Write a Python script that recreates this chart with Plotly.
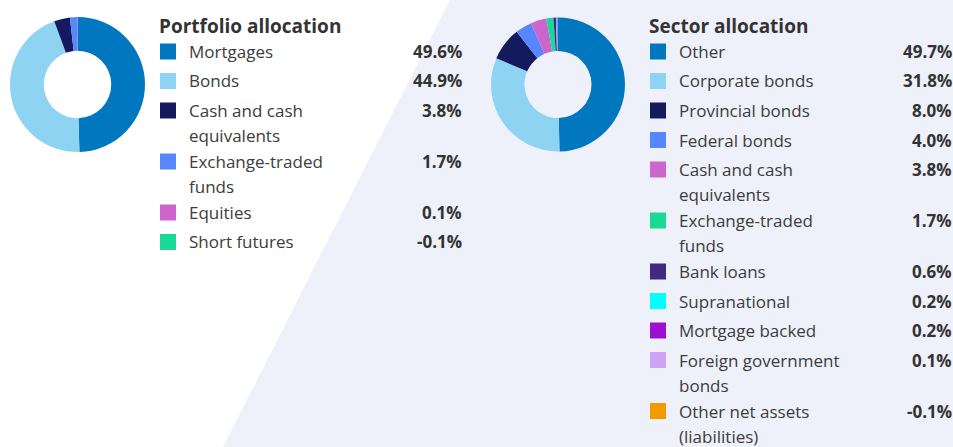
import plotly.graph_objects as go

# Portfolio allocation data
portfolio_labels = ["Mortgages", "Bonds", "Cash and cash<br>equivalents",
                    "Exchange-traded<br>funds", "Equities", "Short futures"]
portfolio_values = [49.6, 44.9, 3.8, 1.7, 0.1, -0.1]
portfolio_colors = ["#0077be", "#8fd3f2", "#151a5e", "#5886ff", "#cc66cc", "#1ad996"]

# Sector allocation data
sector_labels = ["Other", "Corporate bonds", "Provincial bonds", "Federal bonds",
                 "Cash and cash<br>equivalents", "Exchange-traded<br>funds",
                 "Bank loans", "Supranational", "Mortgage backed",
                 "Foreign government<br>bonds", "Other net assets<br>(liabilities)"]
sector_values = [49.7, 31.8, 8.0, 4.0, 3.8, 1.7, 0.6, 0.2, 0.2, 0.1, -0.1]
sector_colors = ["#0077be", "#8fd3f2", "#151a5e", "#5886ff", "#cc66cc", "#1ad996",
                 "#3e2a82", "#00ffff", "#9b10d0", "#cfa2fa", "#f29b00"]

W, H = 953, 447
FONT = "Open Sans"
TEXT = "#333333"
LABEL = "#3c3c3c"

fig = go.Figure()


def px_x(v):
    return v / W


def px_y(v):
    return 1 - v / H


def add_donut(values, colors, cx, cy, r):
    shown = [max(v, 0) for v in values]  # negative weights have no slice
    fig.add_trace(go.Pie(
        values=shown,
        marker=dict(colors=colors, line=dict(width=0)),
        hole=0.5, sort=False, direction="clockwise", rotation=0,
        textinfo="none", hoverinfo="skip", showlegend=False,
        domain=dict(x=[px_x(cx - r), px_x(cx + r)], y=[px_y(cy + r), px_y(cy - r)]),
    ))


def add_legend(title, labels, values, colors, x0, x_val):
    fig.add_annotation(x=px_x(x0 - 3), y=px_y(26), xref="paper", yref="paper",
                       text="<b>" + title + "</b>", showarrow=False,
                       xanchor="left", yanchor="middle",
                       font=dict(family=FONT, size=19, color=TEXT))
    y = 51.5
    for lab, val, col in zip(labels, values, colors):
        parts = lab.split("<br>")
        fig.add_shape(type="rect", xref="paper", yref="paper",
                      x0=px_x(x0), x1=px_x(x0 + 16),
                      y0=px_y(y + 8), y1=px_y(y - 8),
                      fillcolor=col, line=dict(width=0))
        for i, part in enumerate(parts):
            fig.add_annotation(x=px_x(x0 + 27), y=px_y(y + 25 * i), xref="paper", yref="paper",
                               text=part, showarrow=False, xanchor="left", yanchor="middle",
                               font=dict(family=FONT, size=17, color=LABEL))
        fig.add_annotation(x=px_x(x_val + 2), y=px_y(y), xref="paper", yref="paper",
                           text="<b>%.1f%%</b>" % val, showarrow=False,
                           xanchor="right", yanchor="middle",
                           font=dict(family=FONT, size=17, color=TEXT))
        y += 29.5 + (len(parts) - 1) * 21.5


# Lavender backdrop behind the sector panel
fig.add_shape(type="path", xref="paper", yref="paper", layer="below",
              path="M %f,1 L 1,1 L 1,0 L %f,0 Z" % (px_x(450), px_x(223)),
              fillcolor="#eef0fa", line=dict(width=0))

add_donut(portfolio_values, portfolio_colors, 77.5, 84.5, 67.5)
add_donut(sector_values, sector_colors, 558, 84.5, 67)

add_legend("Portfolio allocation", portfolio_labels, portfolio_values,
           portfolio_colors, 160, 462)
add_legend("Sector allocation", sector_labels, sector_values,
           sector_colors, 650, 952)

fig.update_layout(width=W, height=H, margin=dict(l=0, r=0, t=0, b=0),
                  paper_bgcolor="white", plot_bgcolor="white")

fig.write_html("out.html")
